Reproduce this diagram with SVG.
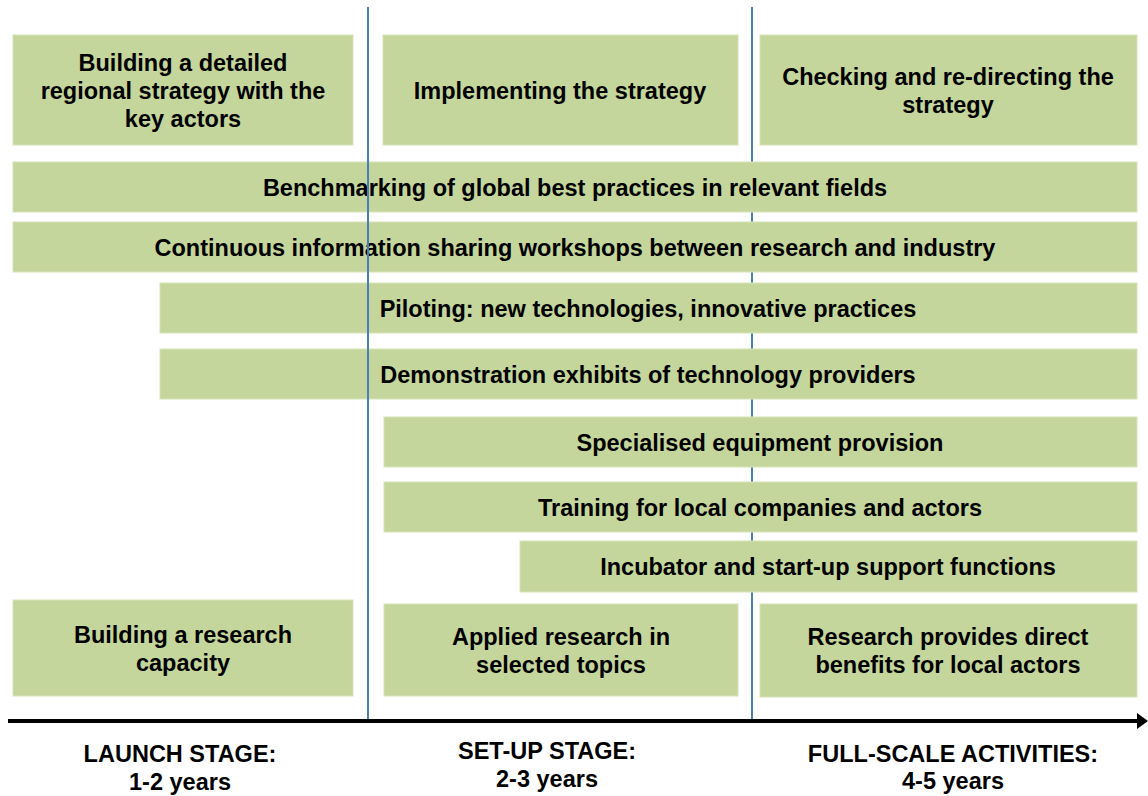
<svg xmlns="http://www.w3.org/2000/svg" width="1148" height="796" viewBox="0 0 1148 796">
<style>
.b{fill:#c4d69b;stroke:#d6e3b8;stroke-width:1}
.t{font-family:"Liberation Sans",Arial,sans-serif;font-weight:bold;font-size:23.5px;fill:#000;text-anchor:middle}
.v{stroke:#4a7ebb;stroke-width:2;fill:none}
</style>
<rect width="1148" height="796" fill="#fff"/>
<g id="connectors-back">
<line class="v" x1="752" y1="7" x2="752" y2="720"/>
</g>
<g id="n1"><rect class="b" x="13" y="35" width="340" height="110"/><text class="t" x="183" y="71">Building a detailed</text><text class="t" x="183" y="99">regional strategy with the</text><text class="t" x="183" y="127">key actors</text></g>
<g id="n2"><rect class="b" x="383" y="35" width="355" height="110"/><text class="t" x="560" y="99">Implementing the strategy</text></g>
<g id="n3"><rect class="b" x="760" y="35" width="377" height="110"/><text class="t" x="948" y="85">Checking and re-directing the</text><text class="t" x="948" y="113">strategy</text></g>
<g id="n4"><rect class="b" x="13" y="162" width="1124" height="50"/><text class="t" x="575" y="196">Benchmarking of global best practices in relevant fields</text></g>
<g id="n5"><rect class="b" x="13" y="222" width="1124" height="50"/><text class="t" x="575" y="256">Continuous information sharing workshops between research and industry</text></g>
<g id="n6"><rect class="b" x="160" y="283" width="977" height="50"/><text class="t" x="648" y="317">Piloting: new technologies, innovative practices</text></g>
<g id="n7"><rect class="b" x="160" y="349" width="977" height="50"/><text class="t" x="648" y="383">Demonstration exhibits of technology providers</text></g>
<g id="n8"><rect class="b" x="384" y="417" width="753" height="50"/><text class="t" x="760" y="451">Specialised equipment provision</text></g>
<g id="n9"><rect class="b" x="384" y="482" width="753" height="50"/><text class="t" x="760" y="516">Training for local companies and actors</text></g>
<g id="n10"><rect class="b" x="520" y="541" width="617" height="51"/><text class="t" x="828" y="575">Incubator and start-up support functions</text></g>
<g id="n11"><rect class="b" x="13" y="600" width="340" height="96"/><text class="t" x="183" y="643">Building a research</text><text class="t" x="183" y="671">capacity</text></g>
<g id="n12"><rect class="b" x="384" y="604" width="354" height="92"/><text class="t" x="561" y="645">Applied research in</text><text class="t" x="561" y="673">selected topics</text></g>
<g id="n13"><rect class="b" x="760" y="604" width="377" height="93"/><text class="t" x="948" y="645">Research provides direct</text><text class="t" x="948" y="673">benefits for local actors</text></g>
<g id="connectors">
<line class="v" x1="368" y1="7" x2="368" y2="720"/>
<line x1="8" y1="721" x2="1140" y2="721" stroke="#000" stroke-width="4"/>
<polygon points="1137,713 1148,721 1137,729" fill="#000"/>
</g>
<g id="labels">
<text class="t" x="180" y="762">LAUNCH STAGE:</text><text class="t" x="180" y="790">1-2 years</text>
<text class="t" x="547" y="759">SET-UP STAGE:</text><text class="t" x="547" y="787">2-3 years</text>
<text class="t" x="953" y="762">FULL-SCALE ACTIVITIES:</text><text class="t" x="953" y="789">4-5 years</text>
</g>
</svg>
